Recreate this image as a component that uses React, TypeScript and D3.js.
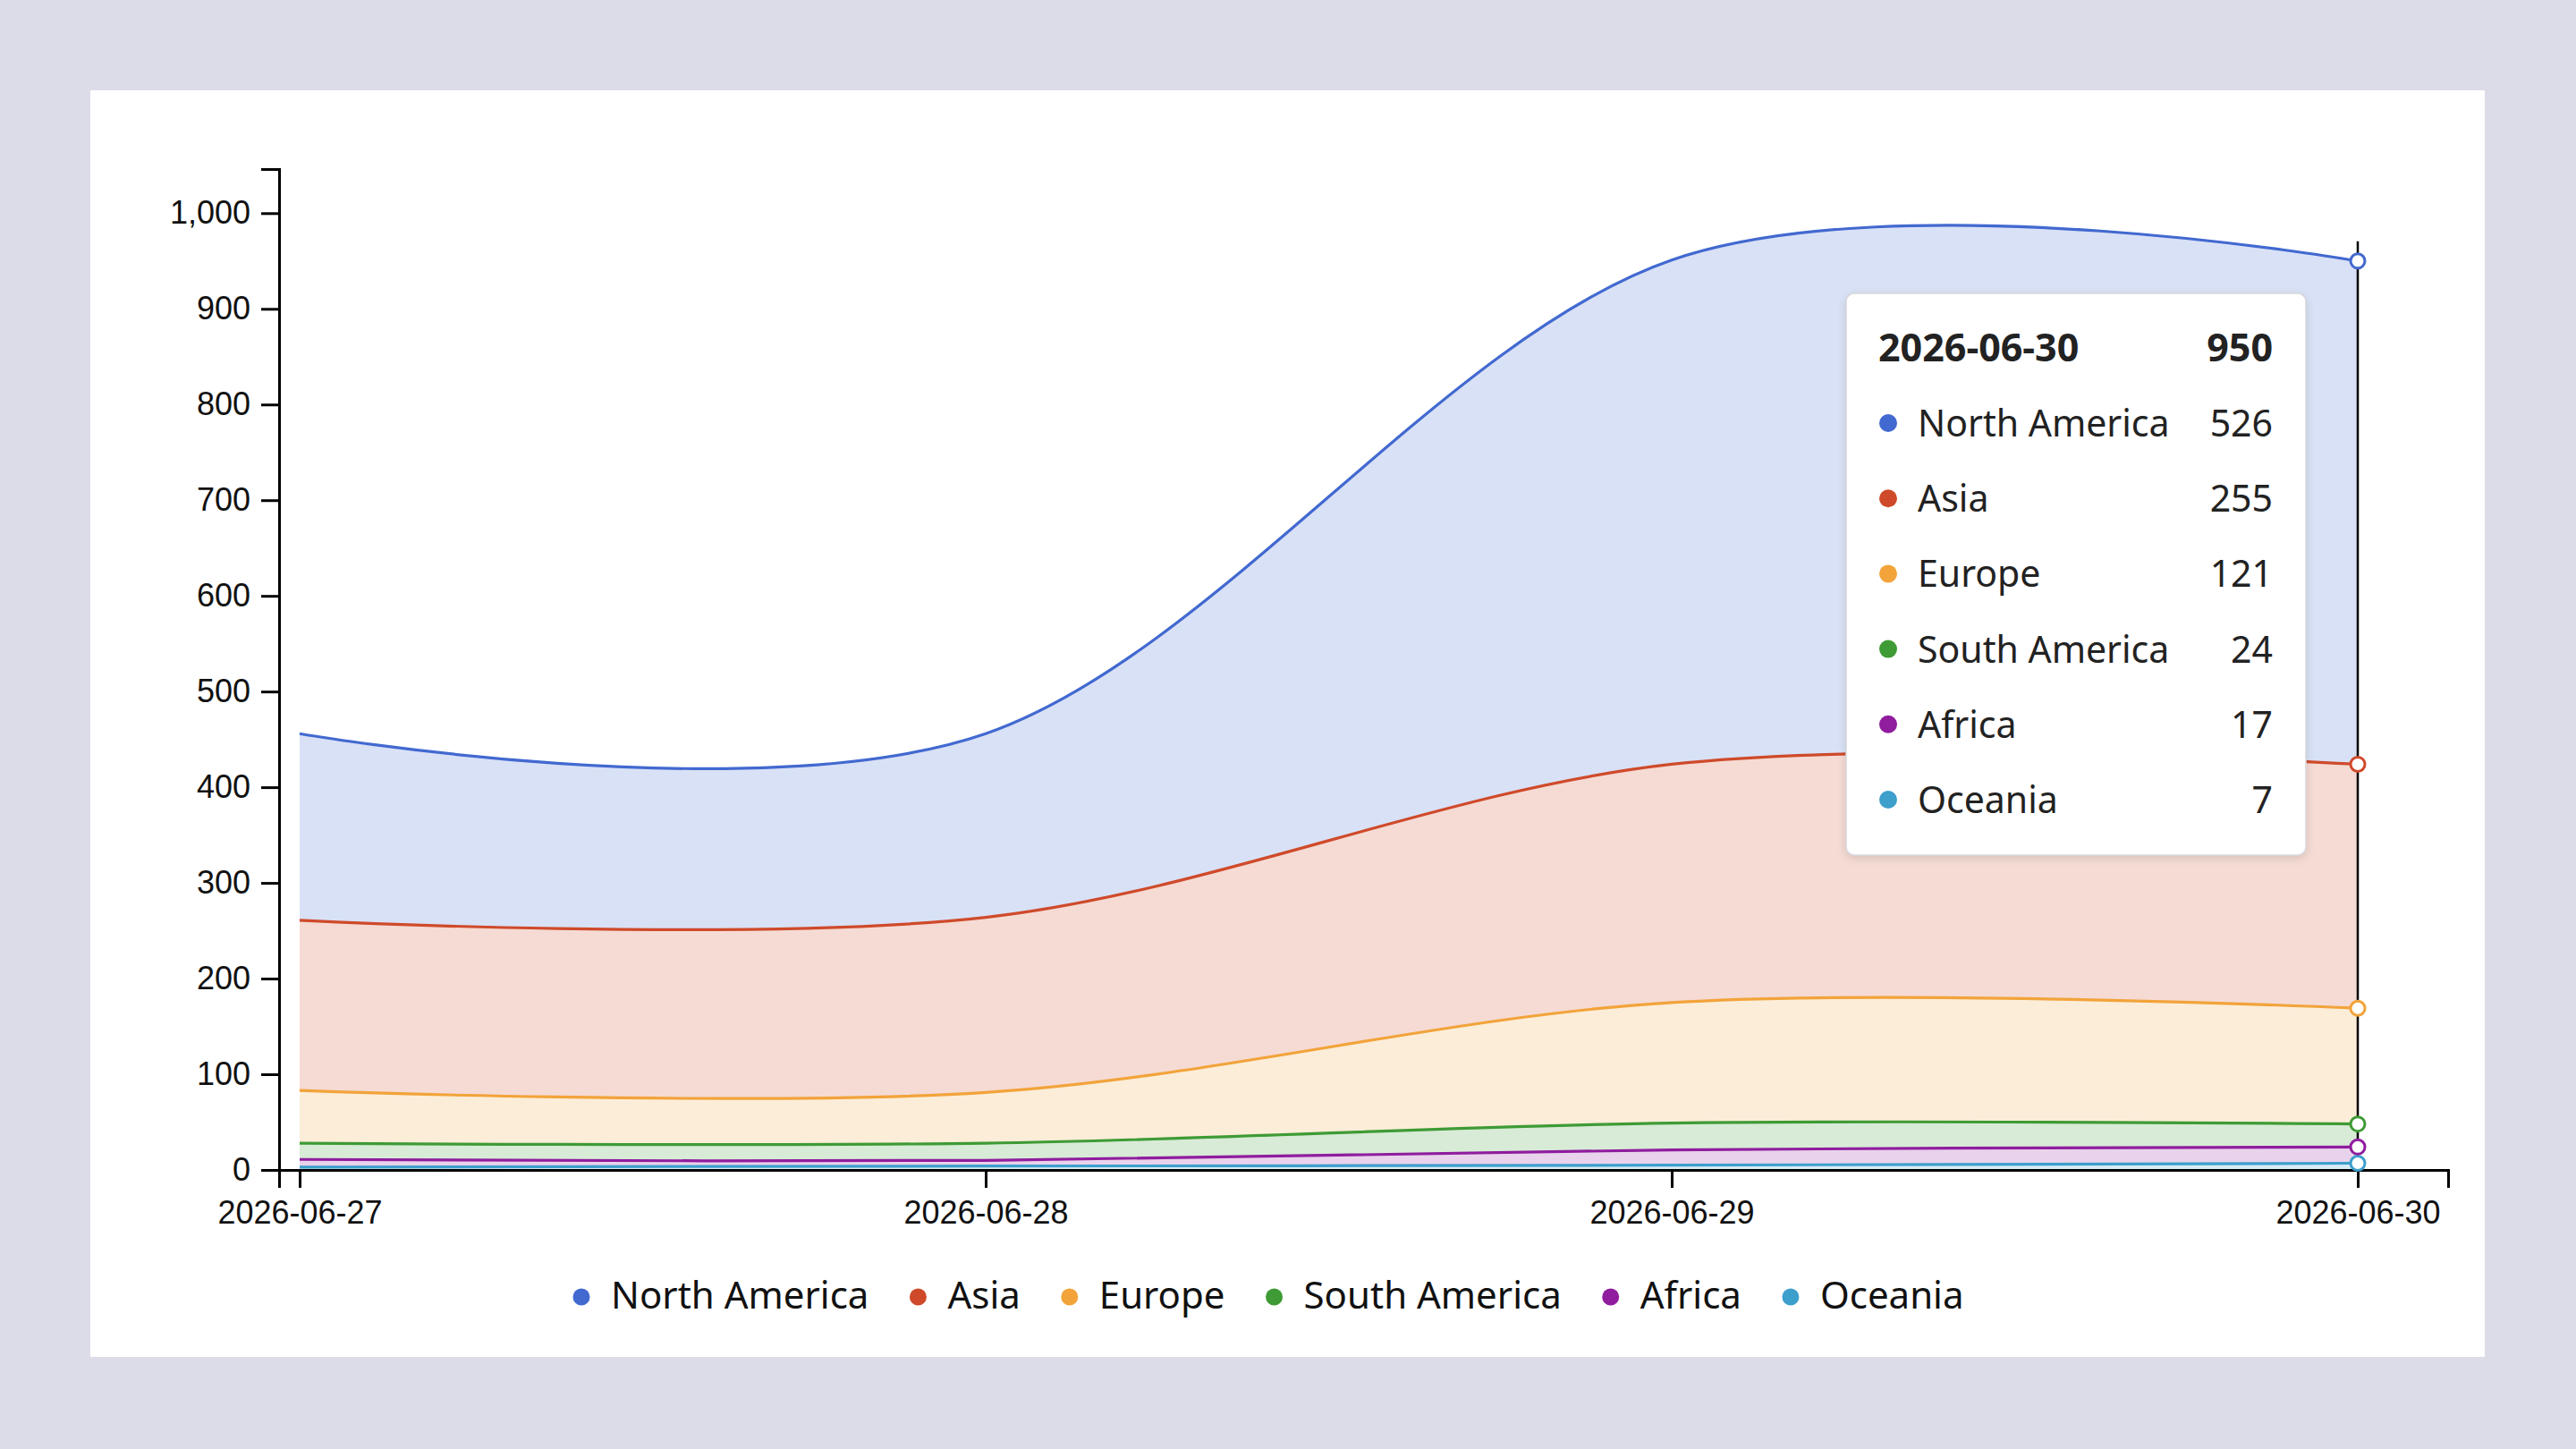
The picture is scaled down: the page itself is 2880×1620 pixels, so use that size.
import React, { useEffect, useRef } from "react";
import * as d3 from "d3";

// Daily visitors by region, stacked
const dates = ["2026-06-27", "2026-06-28", "2026-06-29", "2026-06-30"];
const regions = ["North America", "Asia", "Europe", "South America", "Africa", "Oceania"];
const northAmerica = [195, 192, 527, 526];
const asia = [178, 183, 249, 255];
const europe = [55, 53, 126, 121];
const southAmerica = [17, 18, 28, 24];
const africa = [8, 6, 16, 17];
const oceania = [3, 4, 5, 7];
const regionColors = ["#4269d0", "#cf4a2a", "#f2a33a", "#3e9b35", "#8f1d9e", "#3d9fcc"];
const yTickValues = [0, 100, 200, 300, 400, 500, 600, 700, 800, 900, 1000];
const focusDate = "2026-06-30";

const W = 2880;
const H = 1620;
const card = { x: 101, y: 101, w: 2677, h: 1416 };
const plot = { left: 312, right: 2737, top: 189, bottom: 1308 };
const firstX = 335;
const lastX = 2636;
const axisFont = "'Liberation Sans', Arial, Helvetica, sans-serif";
const uiFont = "'Noto Sans', 'Open Sans', sans-serif";

export default function App() {
  const ref = useRef<SVGSVGElement>(null);

  useEffect(() => {
    const svg = d3.select(ref.current);
    svg.selectAll("*").remove();

    const parse = d3.timeParse("%Y-%m-%d");
    const series = [northAmerica, asia, europe, southAmerica, africa, oceania];
    const rows = dates.map((d, i) => {
      const row: any = { date: parse(d) };
      regions.forEach((r, k) => (row[r] = series[k][i]));
      return row;
    });
    const totals = rows.map((r) => d3.sum(regions, (k) => r[k]));
    const color = d3.scaleOrdinal<string, string>().domain(regions).range(regionColors);

    // stack with the largest region on top
    const stack = d3.stack<any>().keys([...regions].reverse());
    const layers = stack(rows);

    const inner = d3
      .scaleTime()
      .domain(d3.extent(rows, (r) => r.date) as [Date, Date])
      .range([firstX, lastX]);
    const x = d3
      .scaleTime()
      .domain([inner.invert(plot.left), inner.invert(plot.right)])
      .range([plot.left, plot.right]);
    const y = d3
      .scaleLinear()
      .domain([0, (d3.max(totals) as number) * 1.1])
      .range([plot.bottom, plot.top]);

    const defs = svg.append("defs");
    const f = defs
      .append("filter")
      .attr("id", "tipShadow")
      .attr("x", "-10%")
      .attr("y", "-10%")
      .attr("width", "120%")
      .attr("height", "120%");
    f.append("feDropShadow")
      .attr("dx", 0)
      .attr("dy", 3)
      .attr("stdDeviation", 5)
      .attr("flood-color", "#000")
      .attr("flood-opacity", 0.12);

    svg
      .append("rect")
      .attr("x", card.x)
      .attr("y", card.y)
      .attr("width", card.w)
      .attr("height", card.h)
      .attr("fill", "#ffffff");

    const curve = d3.curveCardinal;
    const area = d3
      .area<any>()
      .x((d) => x(d.data.date))
      .y0((d) => y(d[0]))
      .y1((d) => y(d[1]))
      .curve(curve);
    const line = d3
      .line<any>()
      .x((d) => x(d.data.date))
      .y((d) => y(d[1]))
      .curve(curve);

    const gLayers = svg.append("g");
    gLayers
      .selectAll("path.area")
      .data(layers)
      .join("path")
      .attr("class", "area")
      .attr("d", (d) => area(d) as string)
      .attr("fill", (d) => color(d.key))
      .attr("fill-opacity", 0.2);
    gLayers
      .selectAll("path.line")
      .data(layers)
      .join("path")
      .attr("class", "line")
      .attr("d", (d) => line(d) as string)
      .attr("fill", "none")
      .attr("stroke", (d) => color(d.key))
      .attr("stroke-width", 3.2);

    // axes
    const xAxis = svg
      .append("g")
      .attr("transform", `translate(0,${plot.bottom})`)
      .call(
        d3
          .axisBottom(x)
          .tickValues(rows.map((r) => r.date))
          .tickFormat(d3.timeFormat("%Y-%m-%d") as any)
          .tickSize(20)
          .tickPadding(14)
      );
    const yAxis = svg
      .append("g")
      .attr("transform", `translate(${plot.left},0)`)
      .call(
        d3
          .axisLeft(y)
          .tickValues(yTickValues)
          .tickFormat(d3.format(","))
          .tickSize(20)
          .tickPadding(12)
      );
    [xAxis, yAxis].forEach((g) => {
      g.attr("font-family", axisFont).attr("font-size", 36);
      g.selectAll("path,line").attr("stroke", "#000").attr("stroke-width", 3);
      g.selectAll("text").attr("fill", "#111");
    });

    // focus guide at the hovered date
    const fi = dates.indexOf(focusDate);
    const fx = x(rows[fi].date);
    svg
      .append("line")
      .attr("x1", fx)
      .attr("x2", fx)
      .attr("y1", y(totals[fi]) - 22)
      .attr("y2", y(0))
      .attr("stroke", "#000")
      .attr("stroke-width", 2.5);
    svg
      .append("g")
      .selectAll("circle")
      .data(layers)
      .join("circle")
      .attr("cx", fx)
      .attr("cy", (d) => y(d[fi][1]))
      .attr("r", 8)
      .attr("fill", "#fff")
      .attr("stroke", (d) => color(d.key))
      .attr("stroke-width", 3);

    // tooltip
    const tip = svg.append("g").attr("transform", "translate(2064,328)");
    tip
      .append("rect")
      .attr("width", 514)
      .attr("height", 628)
      .attr("rx", 9)
      .attr("fill", "#fff")
      .attr("stroke", "#d6d6dc")
      .attr("stroke-width", 1.5)
      .attr("filter", "url(#tipShadow)");
    tip
      .append("text")
      .attr("x", 36)
      .attr("y", 76)
      .attr("font-family", uiFont)
      .attr("font-weight", 700)
      .attr("font-size", 43)
      .attr("fill", "#222")
      .text(focusDate);
    tip
      .append("text")
      .attr("x", 477)
      .attr("y", 76)
      .attr("text-anchor", "end")
      .attr("font-family", uiFont)
      .attr("font-weight", 700)
      .attr("font-size", 43)
      .attr("fill", "#222")
      .text(d3.format(",")(totals[fi]));
    const tipRows = tip
      .selectAll("g.row")
      .data(regions)
      .join("g")
      .attr("class", "row")
      .attr("transform", (_, i) => `translate(0,${160 + i * 84.2})`);
    tipRows
      .append("circle")
      .attr("cx", 47)
      .attr("cy", -15)
      .attr("r", 10)
      .attr("fill", (d) => color(d));
    tipRows
      .append("text")
      .attr("x", 80)
      .attr("font-family", uiFont)
      .attr("font-size", 41)
      .attr("fill", "#222")
      .text((d) => d);
    tipRows
      .append("text")
      .attr("x", 477)
      .attr("text-anchor", "end")
      .attr("font-family", uiFont)
      .attr("font-size", 41)
      .attr("fill", "#222")
      .text((d) => d3.format(",")(rows[fi][d]));

    // legend
    const legend = svg.append("g").attr("transform", "translate(0,1463)");
    const items = legend.selectAll("g").data(regions).join("g");
    const textOffset = 33;
    items
      .append("circle")
      .attr("cx", 0)
      .attr("cy", -13)
      .attr("r", 9.5)
      .attr("fill", (d) => color(d));
    items
      .append("text")
      .attr("x", textOffset)
      .attr("font-family", uiFont)
      .attr("font-size", 42)
      .attr("fill", "#111")
      .text((d) => d);
    const widths: number[] = [];
    items.each(function () {
      const t = d3.select(this).select("text").node() as SVGTextElement;
      widths.push(textOffset + t.getComputedTextLength());
    });
    const gap = 55;
    const total = d3.sum(widths) + gap * (widths.length - 1) + 9.5;
    let cursor = 1418 - total / 2 + 9.5;
    items.attr("transform", (_, i) => {
      const tx = cursor;
      cursor += widths[i] + gap;
      return `translate(${tx},0)`;
    });
  }, []);

  return (
    <div
      style={{
        position: "absolute",
        left: 0,
        top: 0,
        width: W,
        height: H,
        background: "#dcdce9",
      }}
    >
      <svg ref={ref} width={W} height={H} style={{ display: "block" }} />
    </div>
  );
}
